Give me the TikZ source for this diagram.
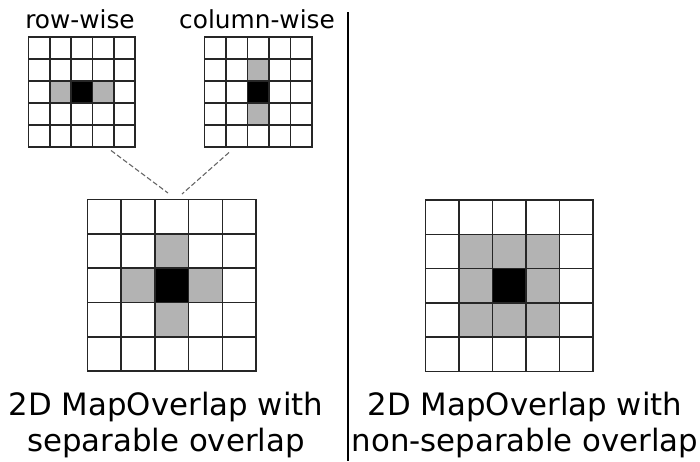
\documentclass[tikz,border=0pt]{standalone}
\usepackage{fontspec}
\setmainfont{DejaVu Sans}
\definecolor{cellgray}{HTML}{B3B3B3}
\definecolor{dashgray}{HTML}{666666}
\tikzset{
  cellbox/.style={draw=black!85, line width=1.6pt, fill=white},
  toplabel/.style={anchor=base, inner sep=0pt, font=\fontsize{24.8}{30}\selectfont},
  bottomlabel/.style={anchor=base, inner sep=0pt, font=\fontsize{30.8}{36}\selectfont},
  link/.style={draw=dashgray, line width=1.1pt, dash pattern=on 5pt off 2.5pt},
  divider/.style={draw=black, line width=1.3pt}
}
% #1 x0, #2 y0, #3 cell width, #4 cell height, #5 gray cells (i/j)
\newcommand\mygrid[5]{%
  \foreach \i in {0,...,4}{\foreach \j in {0,...,4}{%
    \draw[cellbox] (#1+\i*#3,#2+\j*#4) rectangle ++(#3,#4);}}
  \foreach \i/\j in {#5}{%
    \draw[cellbox,fill=cellgray] (#1+\i*#3,#2+\j*#4) rectangle ++(#3,#4);}
  \draw[cellbox,fill=black] (#1+2*#3,#2+2*#4) rectangle ++(#3,#4);
}
\begin{document}
\begin{tikzpicture}[x=1pt,y=-1pt]
\useasboundingbox (0,0) rectangle (700,461);
% small grids
\mygrid{28.5}{37}{21.3}{22}{1/2,3/2}
\mygrid{204.5}{37}{21.5}{22}{2/1,2/3}
% large grids
\mygrid{87.5}{199.5}{33.7}{34.3}{2/1,1/2,3/2,2/3}
\mygrid{425.5}{200}{33.5}{34.3}{1/1,2/1,3/1,1/2,3/2,1/3,2/3,3/3}
% labels
\node[toplabel] (rw) at (80,28) {row-wise};
\node[toplabel] (cw) at (257,28) {column-wise};
\node[bottomlabel] (l1) at (166,415.7) {2D MapOverlap with};
\node[bottomlabel] (l2) at (166,451.5) {separable overlap};
\node[bottomlabel] (r1) at (525,415.7) {2D MapOverlap with};
\node[bottomlabel] (r2) at (525,451.5) {non-separable overlap};
% connectors
\coordinate (rwend) at (111,150.5);
\coordinate (cwend) at (229,152.5);
\coordinate (bigl) at (168,193);
\coordinate (bigr) at (182,194);
\draw[link] (rwend) -- (bigl);
\draw[link] (cwend) -- (bigr);
% divider
\coordinate (dtop) at (348,12);
\coordinate (dbot) at (348,461);
\draw[divider] (dtop) -- (dbot);
\end{tikzpicture}
\end{document}
